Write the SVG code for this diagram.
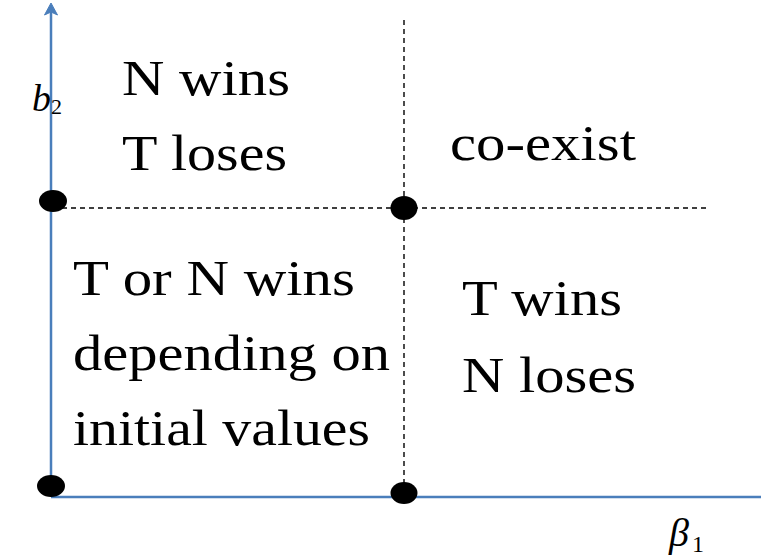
<svg xmlns="http://www.w3.org/2000/svg" width="761" height="558" viewBox="0 0 761 558">
<style>
.lbl{font-family:"Liberation Serif","Times New Roman",serif;font-size:50px;fill:#000}
.axis{stroke:#4a7ebb;stroke-width:2.5;fill:none}
.dash{stroke:#000;stroke-width:1.4;stroke-dasharray:5 4;fill:none}
.dot{fill:#000}
.sym{font-family:"Liberation Serif","Times New Roman",serif;font-style:italic;fill:#000}
.sub{font-family:"Liberation Serif","Times New Roman",serif;fill:#000}
</style>
<g id="connectors">
<line class="dash" x1="404" y1="20" x2="404" y2="490"/>
<line class="dash" x1="53" y1="208" x2="708" y2="208"/>
<line class="axis" x1="51" y1="497" x2="51" y2="8"/>
<path d="M44.5,15 L51,3 L57.5,15 L51,12 z" fill="#4a7ebb" stroke="#4a7ebb" stroke-width="1" stroke-linejoin="round"/>
<line class="axis" x1="51" y1="497" x2="761" y2="497"/>
</g>
<g id="dots">
<ellipse class="dot" cx="53" cy="201" rx="14" ry="11"/>
<ellipse class="dot" cx="404" cy="208" rx="13.5" ry="12"/>
<ellipse class="dot" cx="51" cy="486" rx="14" ry="11"/>
<ellipse class="dot" cx="404" cy="493" rx="13.5" ry="11"/>
</g>
<g id="axis-labels">
<text x="32" y="111" class="sym" font-size="38">b</text>
<text x="51" y="114" class="sub" font-size="22">2</text>
<text x="669" y="546" class="sym" font-size="40">β</text>
<text x="692" y="552" class="sub" font-size="24">1</text>
</g>
<g id="n-wins">
<text class="lbl" x="122" y="95" textLength="168" lengthAdjust="spacingAndGlyphs">N wins</text>
<text class="lbl" x="122" y="170" textLength="165" lengthAdjust="spacingAndGlyphs">T loses</text>
</g>
<g id="co-exist">
<text class="lbl" x="450" y="160" textLength="186" lengthAdjust="spacingAndGlyphs">co-exist</text>
</g>
<g id="t-or-n">
<text class="lbl" x="73" y="295" textLength="282" lengthAdjust="spacingAndGlyphs">T or N wins</text>
<text class="lbl" x="73" y="370" textLength="317" lengthAdjust="spacingAndGlyphs">depending on</text>
<text class="lbl" x="73" y="445" textLength="297" lengthAdjust="spacingAndGlyphs">initial values</text>
</g>
<g id="t-wins">
<text class="lbl" x="462" y="315" textLength="160" lengthAdjust="spacingAndGlyphs">T wins</text>
<text class="lbl" x="462" y="392" textLength="174" lengthAdjust="spacingAndGlyphs">N loses</text>
</g>
</svg>
